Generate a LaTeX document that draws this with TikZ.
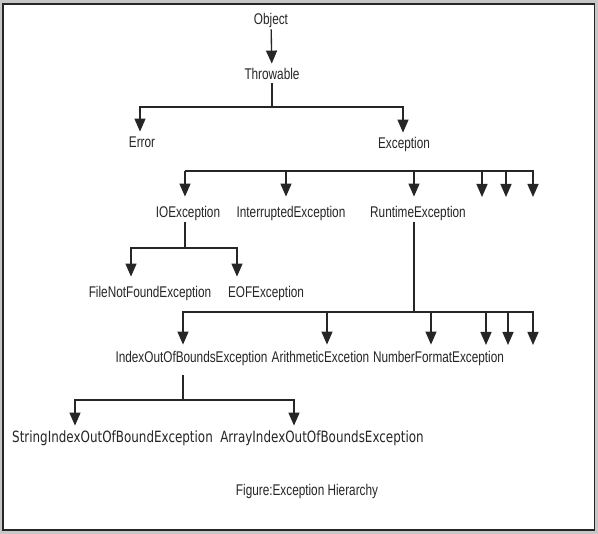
\documentclass[tikz,border=0pt]{standalone}
\usepackage{fontspec}
\setmainfont{Liberation Sans}[FakeStretch=0.76]
\newfontfamily\tahfont{DejaVu Sans}[FakeStretch=0.77]
\usetikzlibrary{arrows.meta}
\begin{document}
\begin{tikzpicture}[x=1pt,y=-1pt,>={Triangle[width=11pt,length=13pt]},line width=1.35pt,
    far/.style={shorten >=5pt},near/.style={shorten >=2pt},
    tah/.style={font=\tahfont\fontsize{15.5}{17}\selectfont}]
    \fill[black!22] (0,0) rectangle (598,534);
    \draw[fill=white,draw=black!85,line width=1.6pt] (2.8,3.8) rectangle (594.5,530);

    \begin{scope}[every node/.style={inner xsep=0pt,inner ysep=4.5pt,text height=10.5pt,text depth=3pt,
        font=\fontsize{15.5}{17}\selectfont,text=black!85}]
        \node (O) at (271,20.5) {Object};
        \node (T) at (272,75.5) {Throwable};
        \node (Er) at (142,143.5) {Error};
        \node (Ex) at (404,144.5) {Exception};
        \node (IO) at (188,213.5) {IOException};
        \node (IE) at (291,213.5) {InterruptedException};
        \node (RE) at (418,213.5) {RuntimeException};
        \node (FN) at (150,293.5) {FileNotFoundException};
        \node (EO) at (266,293.5) {EOFException};
        \node (IX) at (191.5,358.5) {IndexOutOfBoundsException};
        \node (AR) at (320.5,358.5) {ArithmeticExcetion};
        \node (NF) at (438.5,358.5) {NumberFormatException};
        \node[tah] (SI) at (112.5,438.5) {StringIndexOutOfBoundException};
        \node[tah] (AI) at (322,438.5) {ArrayIndexOutOfBoundsException};
        \node (cap) at (307,491.5) {Figure:Exception Hierarchy};
    \end{scope}

    \begin{scope}[draw=black!85]
        \path [->] (O) edge [shorten <=-3pt] (T);

        \coordinate (TB) at (272,107);
        \draw [shorten <=-4pt] (T) -- (TB);
        \draw [->] (TB) -| ([xshift=-2pt]Er.north);
        \draw [->] (TB) -| ([xshift=-1pt]Ex.north);

        \coordinate (EB) at (185,171);
        \draw [->,far] (EB) -| ([xshift=-3pt]IO.north);
        \draw [->,far] (EB) -| ([xshift=-5pt]IE.north);
        \draw [->,far] (EB) -| ([xshift=-4pt]RE.north);
        \foreach \x [count=\i] in {482,506,533} {
            \coordinate (ex\i) at (\x,197);
            \draw [->] (EB) -| (ex\i);
        }

        \coordinate (IB) at (185,248);
        \draw [shorten <=-3pt] ([xshift=-3pt]IO.south) -- (IB);
        \draw [->,far] (IB) -| ([xshift=-19pt]FN.north);
        \draw [->,far] (IB) -| ([xshift=-29pt]EO.north);

        \coordinate (RB) at (414,312);
        \draw [shorten <=-3pt] ([xshift=-4pt]RE.south) -- (RB);
        \draw [->,near] (RB) -| ([xshift=-8.5pt]IX.north);
        \draw [->,near] (RB) -| ([xshift=6.5pt]AR.north);
        \draw [->,near] (RB) -| ([xshift=-7.5pt]NF.north);
        \foreach \x [count=\i] in {486,508,533} {
            \coordinate (rx\i) at (\x,345);
            \draw [->] (RB) -| (rx\i);
        }

        \coordinate (XB) at (183,400);
        \draw [shorten <=5pt] ([xshift=-8.5pt]IX.south) -- (XB);
        \draw [->,shorten >=1pt] (XB) -| ([xshift=-37.5pt]SI.north);
        \draw [->,shorten >=1pt] (XB) -| ([xshift=-28pt]AI.north);
    \end{scope}
\end{tikzpicture}
\end{document}
